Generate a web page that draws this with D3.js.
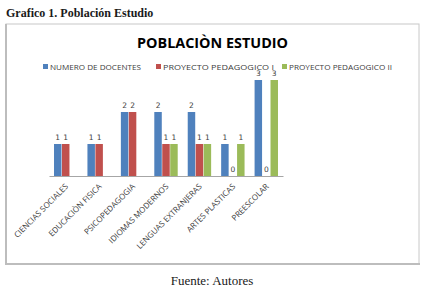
<!DOCTYPE html>
<html>
<head>
<meta charset="utf-8">
<script src="https://cdn.jsdelivr.net/npm/d3@7/dist/d3.min.js"></script>
<style>
  body { margin: 0; background: #fff; }
  svg { display: block; }
</style>
</head>
<body>
<svg id="chart"></svg>
<script>
// Data
const categories = ["CIENCIAS SOCIALES", "EDUCACIÒN FISICA", "PSICOPEDAGOGIA", "IDIOMAS MODERNOS",
  "LENGUAS EXTRANJERAS", "ARTES PLASTICAS", "PREESCOLAR"];
const seriesNames = ["NUMERO DE DOCENTES", "PROYECTO PEDAGOGICO I", "PROYECTO PEDAGOGICO II"];
const docentes = [1, 1, 2, 2, 2, 1, 3];
const proyectoI = [1, 1, 2, 1, 1, 0, 0];
const proyectoII = [null, null, null, 1, 1, 1, 3];
const colors = ["#4f81bd", "#c0504d", "#9bbb59"];

const W = 429, H = 293;
const svg = d3.select("#chart").attr("width", W).attr("height", H);

// Heading above the box
svg.append("text")
  .attr("x", 6).attr("y", 17)
  .style("font-family", "'Liberation Serif', serif")
  .style("font-weight", "bold")
  .style("font-size", "12px")
  .attr("fill", "#1a1a1a")
  .text("Grafico 1. Población Estudio");

// Chart box
const box = { x0: 6, y0: 24, x1: 419, y1: 264 };
svg.append("rect")
  .attr("x", box.x0).attr("y", box.y0)
  .attr("width", box.x1 - box.x0).attr("height", box.y1 - box.y0)
  .attr("fill", "#fff").attr("stroke", "#c8c8c8").attr("stroke-width", 1);
svg.append("line").attr("x1", box.x0).attr("x2", box.x0).attr("y1", box.y0).attr("y2", box.y1 + 1)
  .attr("stroke", "#bdbdbd").attr("stroke-width", 2);
svg.append("line").attr("x1", box.x0).attr("x2", box.x1 + 1).attr("y1", box.y1).attr("y2", box.y1)
  .attr("stroke", "#bdbdbd").attr("stroke-width", 2);

// Title
svg.append("text")
  .attr("x", 212.5).attr("y", 48)
  .attr("text-anchor", "middle")
  .style("font-family", "'Open Sans', sans-serif")
  .style("font-weight", "bold")
  .style("font-size", "15px")
  .attr("textLength", 151).attr("lengthAdjust", "spacingAndGlyphs")
  .attr("fill", "#000")
  .text("POBLACIÒN ESTUDIO");

// Legend
const legendX = [43, 156, 282];
const legendW = [91, 111, 103];
const legend = svg.append("g").style("font-family", "'Open Sans', sans-serif").style("font-size", "7.5px");
seriesNames.forEach((name, i) => {
  legend.append("rect")
    .attr("x", legendX[i]).attr("y", 64).attr("width", 5).attr("height", 5)
    .attr("fill", colors[i]);
  legend.append("text")
    .attr("x", legendX[i] + 7).attr("y", 69.5)
    .attr("fill", "#404040")
    .attr("textLength", legendW[i]).attr("lengthAdjust", "spacingAndGlyphs")
    .text(name);
});

// Scales
const x0 = d3.scaleBand().domain(categories).range([49, 283]).paddingInner(0.3).paddingOuter(0.15);
const x1 = d3.scaleBand().domain(seriesNames).range([0, x0.bandwidth()]).paddingInner(0.06);
const y = d3.scaleLinear().domain([0, 3]).range([176, 80]);

const rows = categories.map((c, i) => ({
  cat: c,
  values: [docentes[i], proyectoI[i], proyectoII[i]]
}));

const plot = svg.append("g");

// Bars
const groups = plot.selectAll(".grp").data(rows).enter().append("g")
  .attr("class", "grp")
  .attr("transform", d => `translate(${x0(d.cat)},0)`);

groups.selectAll("rect")
  .data(d => d.values.map((v, i) => ({ v, s: seriesNames[i], i })).filter(e => e.v !== null))
  .enter().append("rect")
  .attr("x", d => x1(d.s))
  .attr("width", x1.bandwidth())
  .attr("y", d => y(d.v))
  .attr("height", d => y(0) - y(d.v))
  .attr("fill", d => colors[d.i]);

// Value labels
groups.selectAll("text.val")
  .data(d => d.values.map((v, i) => ({ v, s: seriesNames[i], i })).filter(e => e.v !== null))
  .enter().append("text")
  .attr("class", "val")
  .attr("x", d => x1(d.s) + x1.bandwidth() / 2)
  .attr("y", d => y(d.v) - 4)
  .attr("text-anchor", "middle")
  .style("font-family", "'DejaVu Sans', sans-serif")
  .style("font-size", "7.5px")
  .attr("fill", "#404040")
  .text(d => d.v);

// X axis
const xAxis = svg.append("g")
  .attr("transform", `translate(0,${y(0)})`)
  .call(d3.axisBottom(x0).tickSize(0).tickSizeOuter(0));
xAxis.select(".domain").attr("stroke", "#a6a6a6");
xAxis.selectAll("text")
  .attr("x", 0).attr("y", 0).attr("dy", 0)
  .attr("text-anchor", "end")
  .attr("transform", "translate(3,11) rotate(-45)")
  .style("font-family", "'Open Sans', sans-serif")
  .style("font-size", "8px")
  .attr("fill", "#404040");

// Source note
svg.append("text")
  .attr("x", 212).attr("y", 285)
  .attr("text-anchor", "middle")
  .style("font-family", "'Liberation Serif', serif")
  .style("font-size", "13px")
  .attr("fill", "#1a1a1a")
  .text("Fuente: Autores");
</script>
</body>
</html>
